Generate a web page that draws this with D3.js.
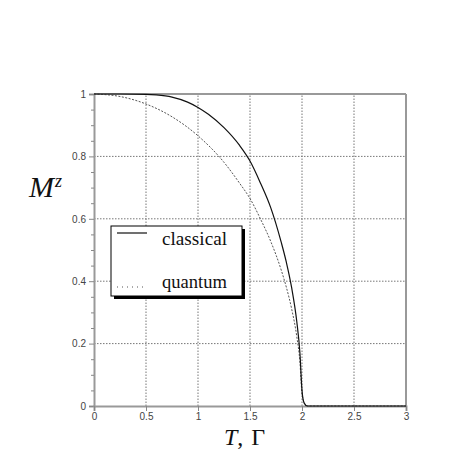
<!DOCTYPE html>
<html><head><meta charset="utf-8">
<script src="https://cdn.jsdelivr.net/npm/d3@7"></script>
<style>
html,body{margin:0;padding:0;background:#fff;}
svg{display:block;}
.serif{font-family:"Liberation Serif","Times New Roman","DejaVu Serif",serif;}
</style>
</head><body>
<svg id="c" width="469" height="469"></svg>
<script>
// ---- data ----
const xTicks = [0, 0.5, 1, 1.5, 2, 2.5, 3];
const xTickLabels = ["0", "0.5", "1", "1.5", "2", "2.5", "3"];
const yTicks = [0, 0.2, 0.4, 0.6, 0.8, 1];
const yTickLabels = ["0", "0.2", "0.4", "0.6", "0.8", "1"];
const yMinorTicks = [0.05,0.1,0.15,0.25,0.3,0.35,0.45,0.5,0.55,0.65,0.7,0.75,0.85,0.9,0.95];

const classicalT = [0, 0.25, 0.5, 0.6, 0.75, 0.9, 1.0, 1.1, 1.25, 1.4, 1.5, 1.6, 1.7, 1.8, 1.85, 1.9, 1.95, 1.98, 2.0, 2.02, 2.05, 2.5, 3];
const classicalM = [1, 1, 0.999, 0.997, 0.99, 0.974, 0.957, 0.935, 0.892, 0.835, 0.785, 0.715, 0.635, 0.525, 0.46, 0.38, 0.27, 0.17, 0.05, 0.01, 0, 0, 0];

const quantumG = [0, 0.25, 0.5, 0.75, 1.0, 1.25, 1.4, 1.5, 1.6, 1.7, 1.8, 1.85, 1.9, 1.95, 1.98, 2.0, 2.03, 2.06, 2.5, 3];
const quantumM = [1, 0.992, 0.968, 0.927, 0.866, 0.781, 0.714, 0.665, 0.6, 0.527, 0.436, 0.38, 0.312, 0.222, 0.141, 0.04, 0.005, 0, 0, 0];

const legendLabels = ["classical", "quantum"];

// ---- drawing ----
const svg = d3.select("#c");
const x = d3.scaleLinear().domain([0, 3]).range([94, 406]);
const y = d3.scaleLinear().domain([0, 1]).range([406, 94]);

// grid
const grid = svg.append("g");
grid.selectAll("line.gx").data(xTicks.slice(1, -1)).join("line")
  .attr("x1", d => x(d)).attr("x2", d => x(d)).attr("y1", y(0)).attr("y2", y(1))
  .attr("stroke", "#777").attr("stroke-width", 1).attr("stroke-dasharray", "1.5,1.5");
grid.selectAll("line.gy").data(yTicks.slice(1, -1)).join("line")
  .attr("y1", d => y(d)).attr("y2", d => y(d)).attr("x1", x(0)).attr("x2", x(3))
  .attr("stroke", "#777").attr("stroke-width", 1).attr("stroke-dasharray", "1.5,1.5");

// frame (top and right)
svg.append("line").attr("x1", x(0)).attr("x2", x(3)).attr("y1", y(1)).attr("y2", y(1))
  .attr("stroke", "#999").attr("stroke-width", 2);
svg.append("line").attr("x1", x(3)).attr("x2", x(3)).attr("y1", y(0)).attr("y2", y(1))
  .attr("stroke", "#999").attr("stroke-width", 2);

// axes
const yAxis = d3.axisLeft(y).tickValues(yTicks).tickSize(5).tickPadding(3)
  .tickFormat((d, i) => yTickLabels[i]);
const gy = svg.append("g").attr("transform", `translate(${x(0)},0)`).call(yAxis);
const yMinor = d3.axisLeft(y).tickValues(yMinorTicks).tickSize(3).tickFormat("");
const gym = svg.append("g").attr("transform", `translate(${x(0)},0)`).call(yMinor);
gym.select(".domain").remove();

const xAxis = d3.axisBottom(x).tickValues(xTicks).tickSize(5).tickPadding(2)
  .tickFormat((d, i) => xTickLabels[i]);
const gx = svg.append("g").attr("transform", `translate(0,${y(0)})`).call(xAxis);

[gy, gym, gx].forEach(g => {
  g.selectAll(".domain").attr("stroke", "#999").attr("stroke-width", 2);
  g.selectAll(".tick line").attr("stroke", "#888").attr("stroke-width", 1);
  g.selectAll(".tick text").attr("fill", "#444").style("font-family", "'Liberation Sans', Arial, sans-serif").style("font-size", "10px");
});

// curves
const line = d3.line().x(d => x(d[0])).y(d => y(d[1])).curve(d3.curveMonotoneX);
svg.append("path").datum(quantumG.map((g, i) => [g, quantumM[i]]))
  .attr("d", line).attr("fill", "none").attr("stroke", "#555")
  .attr("stroke-width", 1).attr("stroke-dasharray", "2,1.5");
svg.append("path").datum(classicalT.map((t, i) => [t, classicalM[i]]))
  .attr("d", line).attr("fill", "none").attr("stroke", "#111").attr("stroke-width", 1.2);

// legend
const lg = svg.append("g");
lg.append("rect").attr("x", 114).attr("y", 229).attr("width", 131).attr("height", 70).attr("fill", "#000");
lg.append("rect").attr("x", 111).attr("y", 226).attr("width", 131).attr("height", 70)
  .attr("fill", "#fff").attr("stroke", "#000").attr("stroke-width", 1);
lg.append("line").attr("x1", 117).attr("x2", 147).attr("y1", 233).attr("y2", 233)
  .attr("stroke", "#111").attr("stroke-width", 1.2);
lg.append("line").attr("x1", 117).attr("x2", 147).attr("y1", 287).attr("y2", 287)
  .attr("stroke", "#555").attr("stroke-width", 1).attr("stroke-dasharray", "1,4");
lg.selectAll("text").data(legendLabels).join("text")
  .attr("class", "serif")
  .attr("x", 162).attr("y", (d, i) => i === 0 ? 245 : 288)
  .attr("textLength", 65).attr("lengthAdjust", "spacingAndGlyphs")
  .style("font-size", "18.5px").attr("fill", "#111").text(d => d);

// axis titles
const ylab = svg.append("text").attr("class", "serif").attr("x", 29).attr("y", 197).attr("fill", "#111");
ylab.append("tspan").style("font-style", "italic").style("font-size", "30px").text("M");
ylab.append("tspan").style("font-style", "italic").style("font-size", "18px").attr("dy", -10).attr("dx", 1).text("z");

const xlab = svg.append("text").attr("class", "serif").attr("x", 224).attr("y", 445)
  .style("font-size", "24px").attr("fill", "#111");
xlab.append("tspan").style("font-style", "italic").text("T");
xlab.append("tspan").text(",");
xlab.append("tspan").attr("dx", 8).text("\u0393");
</script>
</body></html>
